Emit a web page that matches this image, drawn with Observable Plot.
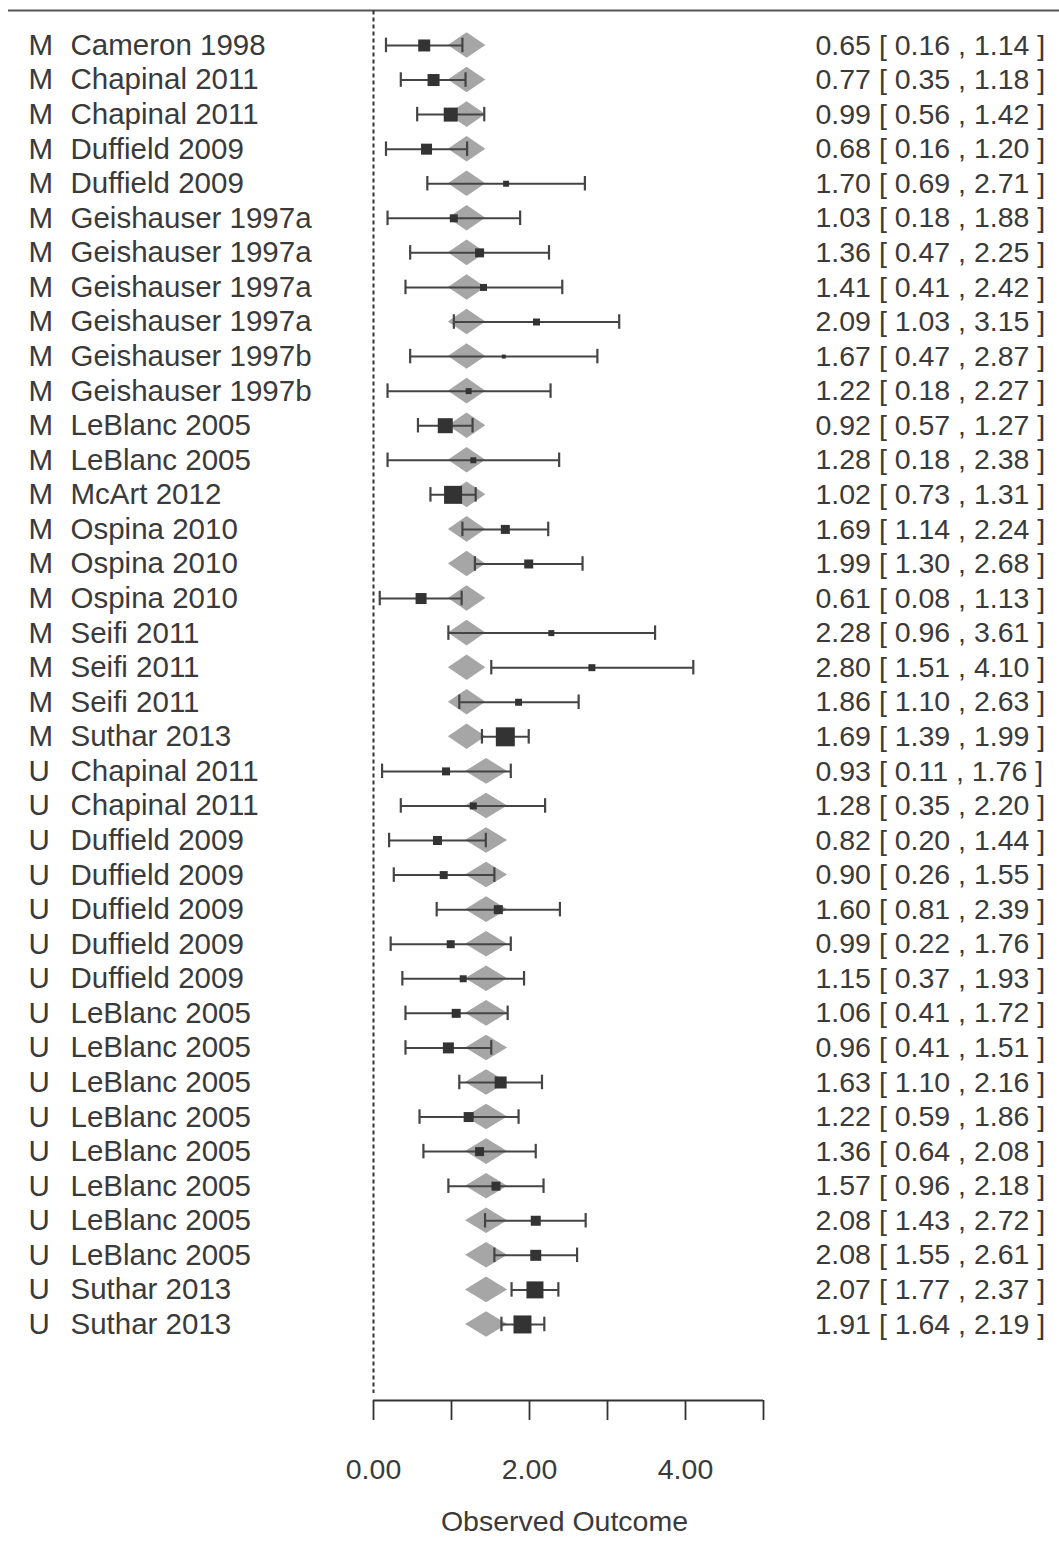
<!DOCTYPE html>
<html>
<head>
<meta charset="utf-8">
<script src="https://cdn.jsdelivr.net/npm/d3@7"></script>
<script src="https://cdn.jsdelivr.net/npm/@observablehq/plot@0.6"></script>
<style>
  html, body { margin: 0; padding: 0; background: #fff; }
  #chart svg { display: block; }
</style>
</head>
<body>
<div id="chart"></div>
<script>
// ---- data ----
const groups = ["M","M","M","M","M","M","M","M","M","M","M","M","M","M","M","M","M","M","M","M","M",
                "U","U","U","U","U","U","U","U","U","U","U","U","U","U","U","U","U"];
const studies = ["Cameron 1998","Chapinal 2011","Chapinal 2011","Duffield 2009","Duffield 2009",
  "Geishauser 1997a","Geishauser 1997a","Geishauser 1997a","Geishauser 1997a",
  "Geishauser 1997b","Geishauser 1997b","LeBlanc 2005","LeBlanc 2005","McArt 2012",
  "Ospina 2010","Ospina 2010","Ospina 2010","Seifi 2011","Seifi 2011","Seifi 2011","Suthar 2013",
  "Chapinal 2011","Chapinal 2011","Duffield 2009","Duffield 2009","Duffield 2009","Duffield 2009","Duffield 2009",
  "LeBlanc 2005","LeBlanc 2005","LeBlanc 2005","LeBlanc 2005","LeBlanc 2005","LeBlanc 2005","LeBlanc 2005","LeBlanc 2005",
  "Suthar 2013","Suthar 2013"];
const estimates = [0.65,0.77,0.99,0.68,1.70,1.03,1.36,1.41,2.09,1.67,1.22,0.92,1.28,1.02,1.69,1.99,0.61,2.28,2.80,1.86,1.69,
                   0.93,1.28,0.82,0.90,1.60,0.99,1.15,1.06,0.96,1.63,1.22,1.36,1.57,2.08,2.08,2.07,1.91];
const lowers = [0.16,0.35,0.56,0.16,0.69,0.18,0.47,0.41,1.03,0.47,0.18,0.57,0.18,0.73,1.14,1.30,0.08,0.96,1.51,1.10,1.39,
                0.11,0.35,0.20,0.26,0.81,0.22,0.37,0.41,0.41,1.10,0.59,0.64,0.96,1.43,1.55,1.77,1.64];
const uppers = [1.14,1.18,1.42,1.20,2.71,1.88,2.25,2.42,3.15,2.87,2.27,1.27,2.38,1.31,2.24,2.68,1.13,3.61,4.10,2.63,1.99,
                1.76,2.20,1.44,1.55,2.39,1.76,1.93,1.72,1.51,2.16,1.86,2.08,2.18,2.72,2.61,2.37,2.19];
// relative study weights (drive square size)
const weights = [12,12,14,11,6,8,9,7,7,4,6,15,6,18,9,9,11,6,7,7,19,
                 8,7,9,8,9,8,7,9,11,12,10,9,9,10,11,17,18];
// fitted values (grey polygons) per moderator level
const predGroups = ["M","U"];
const predValues = [1.20,1.45];
const predLowers = [0.96,1.18];
const predUppers = [1.44,1.72];
const xTicks = [0,1,2,3,4,5];
const xLabel = "Observed Outcome";

// ---- build table ----
const rows = studies.map((s, k) => ({
  row: k + 1,
  group: groups[k],
  study: s,
  est: estimates[k],
  lo: lowers[k],
  hi: uppers[k],
  w: weights[k],
  label: `${estimates[k].toFixed(2)} [ ${lowers[k].toFixed(2)} , ${uppers[k].toFixed(2)} ]`
}));
const pred = Object.fromEntries(predGroups.map((g, j) => [g, {p: predValues[j], lo: predLowers[j], hi: predUppers[j]}]));
const polyH = 0.37, capH = 0.21;
const poly = rows.flatMap(d => {
  const f = pred[d.group];
  return [
    {row: d.row, y: d.row - polyH, x1: f.p, x2: f.p},
    {row: d.row, y: d.row, x1: f.lo, x2: f.hi},
    {row: d.row, y: d.row + polyH, x1: f.p, x2: f.p}
  ];
});
const nRows = rows.length;
const topRow = 0, axisRow = nRows + 2.2, refEnd = nRows + 2.0;

const textColor = "#3a3a3a";
const font = "'Liberation Sans', Arial, sans-serif";
const fs = 28.5, fsLeft = 29.5;

// full-width top rule drawn through the y scale
function topRule(index, scales, values, dims) {
  const y = scales.y(topRow);
  const ns = "http://www.w3.org/2000/svg";
  const l = document.createElementNS(ns, "line");
  l.setAttribute("x1", 8); l.setAttribute("x2", dims.width);
  l.setAttribute("y1", y); l.setAttribute("y2", y);
  l.setAttribute("stroke", "#555"); l.setAttribute("stroke-width", 2);
  return l;
}

const chart = Plot.plot({
  width: 1059,
  height: 1548,
  marginLeft: 373,
  marginRight: 296,
  marginTop: 10.4,
  marginBottom: 148,
  style: {fontFamily: font, fontSize: fs + "px", color: textColor, background: "#fff"},
  x: {domain: [0, 5]},
  y: {domain: [topRow, axisRow], reverse: true, axis: null},
  r: {type: "linear", domain: [0, 20], range: [0, 20 / Math.sqrt(Math.PI)]},
  marks: [
    topRule,
    Plot.ruleX([0], {y1: topRow, y2: refEnd, stroke: "#333", strokeWidth: 2, strokeDasharray: "4,3"}),
    Plot.areaX(poly, {y: "y", x1: "x1", x2: "x2", z: "row", fill: "#a6a6a6", curve: "linear"}),
    Plot.ruleY(rows, {y: "row", x1: "lo", x2: "hi", stroke: "#444", strokeWidth: 2}),
    Plot.ruleX(rows, {x: "lo", y1: d => d.row - capH, y2: d => d.row + capH, stroke: "#444", strokeWidth: 2.2}),
    Plot.ruleX(rows, {x: "hi", y1: d => d.row - capH, y2: d => d.row + capH, stroke: "#444", strokeWidth: 2.2}),
    Plot.dot(rows, {x: "est", y: "row", r: "w", symbol: "square", fill: "#333", stroke: null}),
    Plot.text(rows, {y: "row", text: "group", frameAnchor: "left", dx: -345, textAnchor: "start", fill: textColor, fontSize: fsLeft}),
    Plot.text(rows, {y: "row", text: "study", frameAnchor: "left", dx: -303, textAnchor: "start", fill: textColor, fontSize: fsLeft}),
    Plot.text(rows, {y: "row", text: "label", frameAnchor: "right", dx: 52, textAnchor: "start", fill: textColor, fontSize: fs}),
    Plot.ruleY([axisRow], {x1: d3.min(xTicks), x2: d3.max(xTicks), stroke: "#333", strokeWidth: 1.8}),
    Plot.axisX({ticks: xTicks, tickFormat: d => d % 2 === 0 ? d.toFixed(2) : "", tickSize: 20, tickPadding: 38,
                label: null, stroke: "#333", strokeWidth: 1.8, fill: textColor}),
    Plot.text([xLabel], {frameAnchor: "bottom", dy: 130, dx: -4, text: d => d, fill: textColor, fontSize: fs})
  ]
});
document.getElementById("chart").appendChild(chart);
</script>
</body>
</html>
